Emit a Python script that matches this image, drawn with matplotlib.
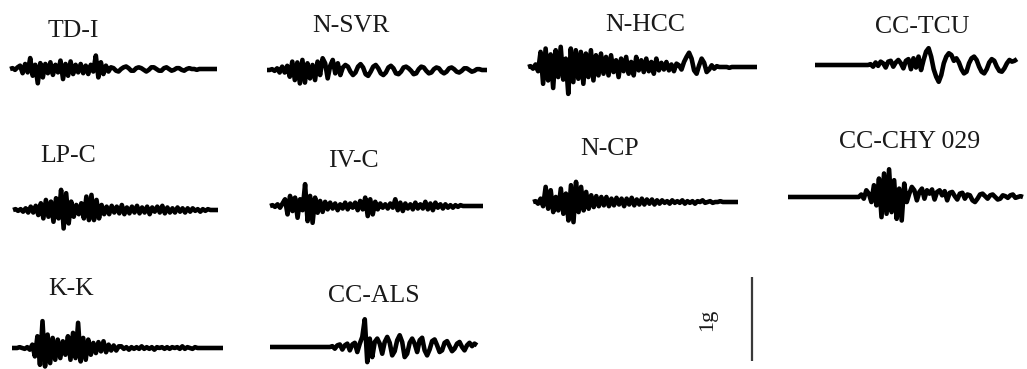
import numpy as np
import matplotlib
matplotlib.use("Agg")
import matplotlib.pyplot as plt

# Station labels
stations = ["TD-I", "N-SVR", "N-HCC", "CC-TCU",
            "LP-C", "IV-C", "N-CP", "CC-CHY 029",
            "K-K", "CC-ALS"]

# Ground acceleration records (g), one list per station
acc_td_i = [0, 0.01, -0.01, 0.02,
            0.04, -0.05, 0.06, -0.04,
            0.13, -0.08, 0.05, -0.17, 0.07, -0.10,
            0.06, -0.05, 0.08, -0.07, 0.05, -0.04,
            0.10, -0.12, 0.06, -0.08, 0.09, -0.06,
            0.05, -0.04, 0.06, -0.05, 0.04, -0.06, 0.05, -0.03,
            0.16, -0.10, 0.08, -0.06, 0.04, -0.03,
            0.02, 0.01, -0.02, -0.03, 0.0, 0.02, 0.03, 0.01, -0.02, -0.02, 0.01, 0.02,
            0.01, -0.01, -0.03, -0.01, 0.02, 0.02, 0.0, -0.02, -0.02, 0.01, 0.02, 0.0,
            -0.02, -0.01, 0.01, 0.01, -0.01, -0.02, 0.0, 0.01,
            0, 0, -0.01, 0, 0, 0, 0, 0, 0, 0, 0]

acc_n_svr = [0, 0, 0.01, -0.01, 0.02, -0.03, 0.04, -0.03, 0.05,
             -0.08, 0.10, -0.12, 0.09, -0.16, 0.12, -0.15, 0.08, -0.10, 0.06, -0.12, 0.10, -0.06, 0.14,
             0.08, -0.10, 0.05, 0.12, -0.04, 0.08, -0.06, 0.03,
             0.06, 0.04, -0.02, -0.06, -0.03, 0.04, 0.07, 0.03, -0.05, -0.07, -0.02, 0.04, 0.06, 0.02,
             -0.04, -0.06, -0.03, 0.03, 0.05, 0.02, -0.04, -0.05, -0.02, 0.03, 0.04, 0.02, -0.01, -0.05,
             -0.04, 0.01, 0.04, 0.03, -0.01, -0.04, -0.03, 0.01, 0.03, 0.02, -0.02, -0.04, -0.02, 0.02,
             0.03, 0.01, -0.02, -0.03, -0.01, 0.02, 0.02, 0.0, -0.02, -0.01, 0.01, 0.01, 0.0, 0.0, 0.0]

acc_n_hcc = [0, 0.01, -0.02, 0.03, -0.05,
             0.18, -0.20, 0.22, -0.16, 0.15, -0.25, 0.20, -0.12, 0.24, -0.15, 0.10, -0.32,
             0.22, -0.18, 0.20, -0.14, 0.18, -0.20, 0.16, -0.12, 0.20, -0.16, 0.14, -0.10,
             0.16, -0.08, 0.12, -0.10, 0.14, -0.06, 0.08, -0.12, 0.10, -0.05, 0.12, -0.08,
             0.06, -0.10, 0.12, -0.04, 0.08, -0.06, 0.10, -0.05, 0.06, -0.08, 0.10, -0.04,
             0.05, -0.03, 0.06, -0.04, 0.03, -0.05, 0.04, 0.02, -0.03, 0.06, 0.12, 0.17, 0.10, -0.04, -0.08, 0.02,
             0.10, 0.05, -0.06, -0.03, 0.02, -0.02, 0.01, 0,
             0, 0, 0, -0.01, 0, 0, 0, 0, 0, 0, 0, 0, 0, 0, 0]

acc_cc_tcu = [0] * 22 + [
    0.01, -0.02, 0.03, -0.01, 0.04, 0.02, -0.03, 0.04, 0.05, -0.02, 0.03,
    0.06, 0.02, -0.04, 0.05, 0.07, -0.05, 0.08, -0.03, 0.10, -0.06, 0.06,
    0.16, 0.20, 0.10, -0.05, -0.14, -0.20, -0.12, 0.02,
    0.10, 0.14, 0.12, 0.05, 0.08, 0.03, -0.05, -0.10, -0.08, 0.02, 0.08, 0.10, 0.06, -0.02,
    -0.08, -0.10, -0.05, 0.03, 0.07, 0.05, -0.02, -0.07, -0.08, -0.04, 0.02, 0.06, 0.04, 0.05, 0.07]

acc_lp_c = [0, 0.01, -0.01, 0.01, -0.02, 0.02, -0.03, 0.04, -0.03, 0.05, -0.06,
            0.08, -0.10, 0.12, -0.08, 0.10, -0.14, 0.14, -0.10, 0.24, -0.22, 0.20, -0.16,
            0.10, -0.08, 0.06, -0.05, 0.08, -0.10, 0.16, -0.12, 0.18, -0.12, 0.12, -0.10,
            0.06, -0.05, 0.04, -0.05, 0.05, -0.03, 0.04, -0.04, 0.06, -0.05, 0.03, -0.04,
            0.04, -0.03, 0.05, -0.04, 0.03, -0.03, 0.04, -0.05, 0.03, -0.02, 0.04, -0.03,
            0.05, -0.04, 0.03, -0.03, 0.02, -0.03, 0.03, -0.02, 0.02, -0.03, 0.02, -0.02,
            0.02, -0.01, 0.01, -0.02, 0.01, -0.01, 0.01, 0, 0, 0, 0]

acc_iv_c = [0, 0.01, -0.01, 0.02, -0.02, 0.03,
            0.08, -0.10, 0.12, -0.06, 0.10, -0.14, 0.08, -0.05, 0.26, -0.18, 0.12, -0.20,
            0.10, -0.08, 0.06, -0.07, 0.05, -0.04,
            0.04, -0.03, 0.03, -0.05, 0.02, -0.03, 0.04, -0.04, 0.03, -0.02, 0.04, -0.05, 0.06, -0.04,
            0.10, -0.12, 0.08, -0.10, 0.05, -0.04,
            0.03, -0.02, 0.02, -0.03, 0.03, -0.02, 0.08, -0.05, 0.04, -0.06, 0.03, -0.03,
            0.02, -0.04, 0.04, -0.03, 0.02, -0.03, 0.05, -0.04, 0.03, -0.05, 0.04, -0.02,
            0.02, -0.03, 0.02, -0.02, 0.01, -0.02, 0.01, -0.01, 0.01, 0, 0, 0, 0, 0, 0, 0, 0, 0]

acc_n_cp = [0, 0.01, -0.02, 0.04, -0.05,
            0.18, -0.08, 0.14, -0.12, 0.06, -0.10, 0.16, -0.14, 0.10, -0.22,
            0.20, -0.24, 0.24, -0.12, 0.18, -0.10, 0.12, -0.08, 0.08, -0.06,
            0.07, -0.05, 0.06, -0.04, 0.06, -0.05, 0.04, -0.04, 0.05, -0.03, 0.04, -0.05, 0.04,
            -0.03, 0.05, -0.04, 0.03, -0.03, 0.04, -0.03, 0.03, -0.02, 0.03, -0.03, 0.02, -0.02,
            0.02, -0.01, 0.01, -0.02, 0.02, -0.01, 0.01, -0.01, 0.02, -0.02, 0.01, -0.01, 0.01,
            -0.02, 0.01, 0, 0.02, -0.01, 0, 0.01, -0.01, 0, 0, 0.01, 0, 0, 0, 0, 0, 0, 0]

acc_cc_chy029 = [0] * 29 + [
    0.03, -0.02, 0.08, 0.04, -0.06, 0.14, -0.10, 0.22, -0.24, 0.28,
    -0.20, 0.33, -0.18, 0.20, -0.26, 0.10, -0.28, 0.16, -0.06, 0.04,
    0.12, 0.08, -0.04, 0.06, 0.10, -0.02, 0.08, 0.04, 0.09, -0.03, 0.06, 0.08, 0.02, 0.07, -0.04,
    0.05, 0.06, 0.01, -0.03, 0.04, 0.05, -0.02, 0.03, 0.02, -0.04, -0.06, -0.02, 0.03, 0.04, 0.01,
    -0.02, 0.02, 0.03, 0.0, -0.03, -0.02, 0.02, 0.01, -0.01, 0.02, 0.03, -0.01, 0.0, 0.01, 0.0]

acc_k_k = [0, 0, 0, 0.01, 0, -0.01, 0.01, -0.02, 0.04,
           -0.10, 0.14, -0.20, 0.32, -0.22, 0.16, -0.18, 0.12, -0.14, 0.10, -0.12, 0.08,
           -0.08, 0.14, -0.14, 0.18, -0.12, 0.30, -0.16, 0.12, -0.14, 0.10, -0.08, 0.06,
           -0.06, 0.07, -0.04, 0.08, -0.05, 0.04, -0.03, 0.03, -0.03, 0.02,
           0.02, -0.01, 0.01, -0.02, 0.01, -0.01, 0.01, -0.01, 0.02, -0.01, 0.01, -0.01, 0.01, -0.02,
           0.01, 0, 0.01, -0.01, 0.01, -0.01, 0.01, 0, 0.01, -0.01, 0.02, -0.01, 0.01, 0, -0.01, 0.01,
           0, 0, 0, 0, 0, 0, 0, 0, 0, 0, 0]

acc_cc_als = [0] * 25 + [
    0.01, -0.02, 0.02, 0.03, -0.03, 0.02, 0.04, -0.04, 0.03, 0.05, -0.06, 0.04,
    0.12, 0.33, -0.18, 0.10, -0.12, 0.06, 0.10,
    0.04, -0.08, 0.06, 0.12, 0.05, -0.10, -0.05, 0.08, 0.14, 0.06, -0.12, -0.08, 0.05, 0.10,
    0.04, -0.06, 0.08, 0.11, -0.04, -0.10, -0.03, 0.07, 0.09, 0.02, -0.06, -0.04, 0.05, 0.07,
    0.01, -0.05, -0.02, 0.04, 0.06, 0.00, -0.04, 0.02, 0.05, 0.01, 0.04, 0.02]

records = [acc_td_i, acc_n_svr, acc_n_hcc, acc_cc_tcu,
           acc_lp_c, acc_iv_c, acc_n_cp, acc_cc_chy029,
           acc_k_k, acc_cc_als]

scale_bar_g = 1.0

# ---- layout (pixel canvas) ----
W, H = 1027, 369
PX_PER_G = 84.0
# (x start, x end, baseline y) of each trace
trace_boxes = [(10, 217, 69), (267, 487, 70), (528, 757, 67), (815, 1017, 65),
               (13, 218, 210), (270, 483, 206), (533, 738, 202), (788, 1023, 197),
               (12, 223, 348), (270, 477, 347)]
# (x centre, baseline y) of each station label
label_pos = [(73, 37), (351, 32), (645, 31), (922, 33),
             (68, 162), (353, 167), (610, 155), (910, 148),
             (71, 295), (374, 302)]

fig = plt.figure(figsize=(W / 100, H / 100), dpi=100)
ax = fig.add_axes([0, 0, 1, 1])
ax.set_xlim(0, W)
ax.set_ylim(H, 0)
ax.axis("off")

for rec, (x0, x1, y0) in zip(records, trace_boxes):
    a = np.asarray(rec, dtype=float)
    x = np.linspace(x0, x1, len(a))
    ax.plot(x, y0 - a * PX_PER_G, color="black", lw=3.3,
            solid_joinstyle="round", solid_capstyle="butt")

for name, (xc, yb) in zip(stations, label_pos):
    ax.text(xc, yb, name, ha="center", va="baseline",
            family="Liberation Serif", fontsize=18.5, color="#1a1a1a")

# 1 g amplitude scale bar
bar_x, bar_bottom = 752, 361
ax.plot([bar_x, bar_x], [bar_bottom, bar_bottom - scale_bar_g * PX_PER_G],
        color="#3a3a3a", lw=1.6, solid_capstyle="butt")
ax.text(708, 320, "1g", rotation=90, ha="center", va="center",
        family="Liberation Serif", fontsize=16, color="#1a1a1a")

fig.savefig("out.png", dpi=100)
